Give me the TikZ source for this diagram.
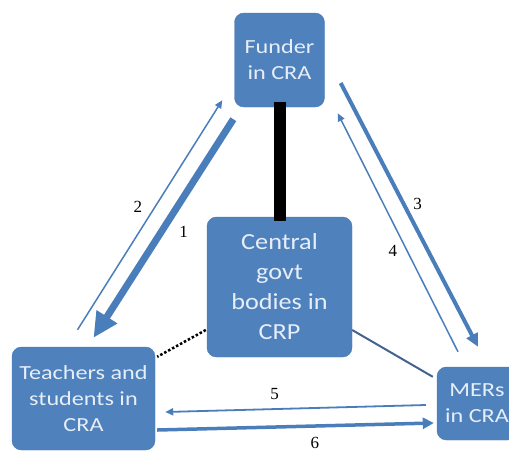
\documentclass[tikz,border=0pt]{standalone}
\usepackage{fontspec}
\setmainfont{Liberation Serif}
\newfontfamily\boxfont[FakeStretch=1.21]{Carlito}
\newfontfamily\bigboxfont[FakeStretch=1.14]{Carlito}
\usetikzlibrary{arrows.meta}
\usetikzlibrary{calc}

\definecolor{boxblue}{HTML}{4F81BD}
\definecolor{boxedge}{HTML}{4A7AB5}
\definecolor{boxtext}{HTML}{E6EEF8}
\definecolor{arrowblue}{HTML}{4A7EBB}
\definecolor{linkgrey}{HTML}{44628F}

\begin{document}
\begin{tikzpicture}[
		x=1pt, y=-1pt,
		actor/.style={
			draw=boxedge,
			fill=boxblue,
			rectangle,
			rounded corners=0.33cm,
			align=center,
			text=boxtext,
			font=\boxfont\fontsize{20}{26}\selectfont},
		actor_big/.style={
			actor,
			font=\bigboxfont\fontsize{23}{30}\selectfont},
		flow/.style={
			draw=arrowblue,
			line width=1.5pt,
			-{Triangle[length=8pt,width=7pt]}},
		flownum/.style={
			font=\fontsize{17}{17}\selectfont,
			inner sep=0pt},
		]

		\clip (0,0) rectangle (509,456);

		%Funder
		\node (funder)[actor, minimum width=90pt, minimum height=94pt] at (279.5,60) {Funder\\in CRA};

		%Central govt
		\node (central)[actor_big, minimum width=145pt, minimum height=140pt] at (279.5,287) {Central\\govt\\bodies in\\CRP};

		%Teachers and students
		\node (teachers)[actor, minimum width=143pt, minimum height=103pt] at (83.5,398.5) {Teachers and\\students in\\CRA};

		%MERs
		\node (mers)[actor, minimum width=80pt, minimum height=73pt] at (477,403.5) {MERs\\in CRA};

		%Links to the central bodies
		\draw[black, line width=12pt] ([yshift=5]funder.south) -- ([yshift=-4]central.north);
		\draw[black, line width=2.5pt, dash pattern=on 2.5pt off 2pt] ([shift={(-1,43)}]central.west) -- ([shift={(2,10)}]teachers.north east);
		\draw[linkgrey, line width=2pt] ([shift={(0,43)}]central.east) -- ([shift={(-4,10)}]mers.north west);

		%Flows between funder and teachers
		\draw[flow, line width=7pt, -{Triangle[length=25pt,width=23pt]}] ([shift={(-1,12)}]funder.south west) -- ([shift={(10,-9)}]teachers.north)
			node (num1)[flownum, pos=0.47, xshift=16pt, yshift=-10pt] {1};
		\draw[flow] ([shift={(-6,-17)}]teachers.north) -- ([shift={(-12,-7)}]funder.south west)
			node (num2)[flownum, pos=0.5, xshift=-12pt, yshift=8pt] {2};

		%Flows between funder and MERs
		\draw[flow, line width=4pt, -{Triangle[length=13pt,width=12pt]}] ([shift={(16,23)}]funder.east) -- ([shift={(1,-20)}]mers.north)
			node (num3)[flownum, pos=0.48, xshift=11pt, yshift=6pt] {3};
		\draw[flow] ([shift={(-19,-15)}]mers.north) -- ([shift={(13,6)}]funder.south east)
			node (num4)[flownum, pos=0.45, xshift=-11pt, yshift=-6pt] {4};

		%Flows between MERs and teachers
		\draw[flow, line width=1.8pt] ([shift={(-11,1.5)}]mers.west) -- ([shift={(10,13.5)}]teachers.east)
			node (num5)[flownum, pos=0.58, yshift=15pt] {5};
		\draw[flow, line width=3.5pt, -{Triangle[length=11pt,width=11pt]}] ([shift={(2,31.5)}]teachers.east) -- ([shift={(-3,19.5)}]mers.west)
			node (num6)[flownum, pos=0.57, yshift=-17pt] {6};

	\end{tikzpicture}
\end{document}
